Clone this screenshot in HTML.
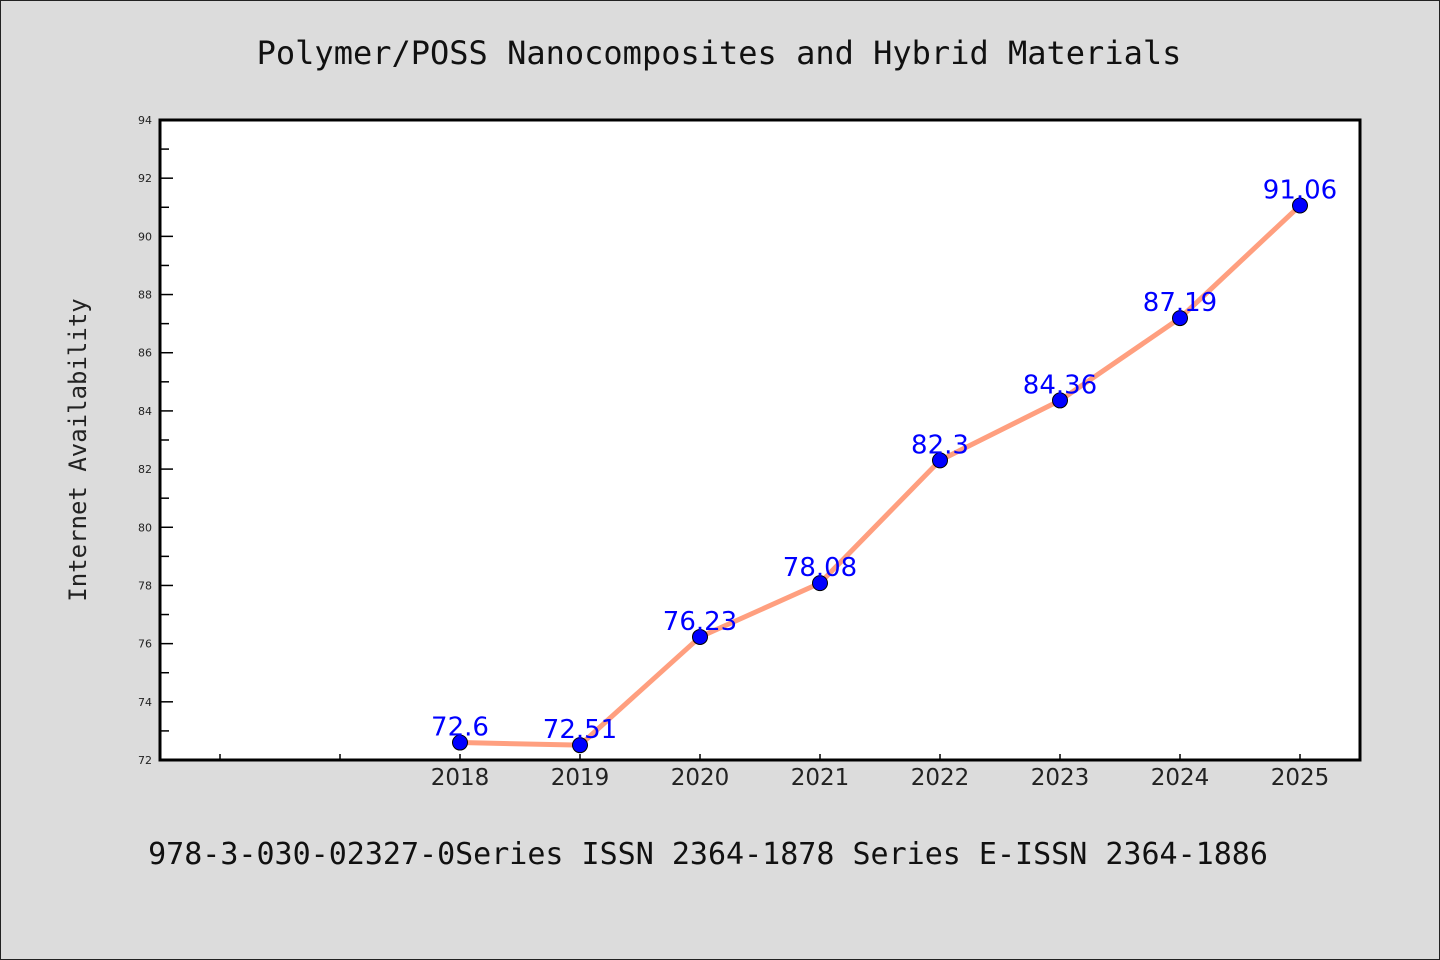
<!DOCTYPE html>
<html><head><meta charset="utf-8"><style>
body{margin:0;background:#dcdcdc;}
svg{display:block;}
</style></head><body>
<svg width="1440" height="960" xmlns="http://www.w3.org/2000/svg">
<rect x="0.5" y="0.5" width="1439" height="959" fill="#dcdcdc" stroke="#222" stroke-width="1"/>
<text x="719" y="64" text-anchor="middle" font-family="DejaVu Sans Mono, Liberation Mono, monospace" font-size="32" fill="#111">Polymer/POSS Nanocomposites and Hybrid Materials</text>
<rect x="160" y="120" width="1200" height="640" fill="#fff"/>
<g id="yaxis"></g>
<g id="xaxis"></g>
<g id="series"></g>
<rect x="160" y="120" width="1200" height="640" fill="none" stroke="#000" stroke-width="3"/>
<text transform="translate(86,450) rotate(-90)" text-anchor="middle" font-family="DejaVu Sans Mono, Liberation Mono, monospace" font-size="24" fill="#222">Internet Availability</text>
<text x="708" y="864" text-anchor="middle" font-family="DejaVu Sans Mono, Liberation Mono, monospace" font-size="30" fill="#111">978-3-030-02327-0Series ISSN 2364-1878 Series E-ISSN 2364-1886</text>
</svg>
<script>
const years=[2018,2019,2020,2021,2022,2023,2024,2025];
const values=[72.6,72.51,76.23,78.08,82.3,84.36,87.19,91.06];
const labels=["72.6","72.51","76.23","78.08","82.3","84.36","87.19","91.06"];
const yTicks=[72,74,76,78,80,82,84,86,88,90,92,94];
const xTickYears=[2016,2017,2018,2019,2020,2021,2022,2023,2024,2025];
const NS="http://www.w3.org/2000/svg";
const L=160,R=1360,T=120,B=760,xMin=2015.5,xMax=2025.5,yMin=72,yMax=94;
function xs(v){return L+(v-xMin)/(xMax-xMin)*(R-L);}
function ys(v){return B-(v-yMin)/(yMax-yMin)*(B-T);}
function mk(tag,attrs,parent){const e=document.createElementNS(NS,tag);for(const k in attrs)e.setAttribute(k,attrs[k]);parent.appendChild(e);return e;}
const ya=document.getElementById('yaxis'),xa=document.getElementById('xaxis'),sg=document.getElementById('series');
yTicks.forEach((t,i)=>{
  const y=ys(t);
  const ln=mk('line',{x1:L,x2:L+13,y1:y,y2:y,stroke:'#000','stroke-width':1.5},ya);
  
  
  const tx=mk('text',{x:152,y:y+4,'text-anchor':'end','font-family':'DejaVu Sans, Liberation Sans, sans-serif','font-size':11,fill:'#222'},ya);
  tx.textContent=t;
  
  
  if(i<yTicks.length-1){
    const m=ys(t+1);
    const mn=mk('line',{x1:L,x2:L+9,y1:m,y2:m,stroke:'#000','stroke-width':1.5},ya);
    
    
  }
});
xTickYears.forEach(yr=>{
  const x=xs(yr);
  const ln=mk('line',{x1:x,x2:x,y1:B,y2:B-6,stroke:'#000','stroke-width':1.5},xa);
  
  
  if(years.includes(yr)){
    const tx=mk('text',{x:x,y:B+25,'text-anchor':'middle','font-family':'DejaVu Sans, Liberation Sans, sans-serif','font-size':23,fill:'#222'},xa);
    tx.textContent=yr;
    
    
  }
});
const pts=years.map((y,i)=>xs(y)+','+ys(values[i])).join(' ');
const pl=mk('polyline',{points:pts,fill:'none',stroke:'#ff9f7f','stroke-width':5,'stroke-linejoin':'round'},sg);


years.forEach((y,i)=>{
  const c=mk('circle',{cx:xs(y),cy:ys(values[i]),r:7.5,fill:'#0000ff',stroke:'#000','stroke-width':1},sg);
  
  
});
years.forEach((y,i)=>{
  const t=mk('text',{x:xs(y),y:ys(values[i])-7,'text-anchor':'middle','font-family':'DejaVu Sans, Liberation Sans, sans-serif','font-size':26,fill:'#0000ff'},sg);
  t.textContent=labels[i];
  
  
});
</script>
</body></html>
